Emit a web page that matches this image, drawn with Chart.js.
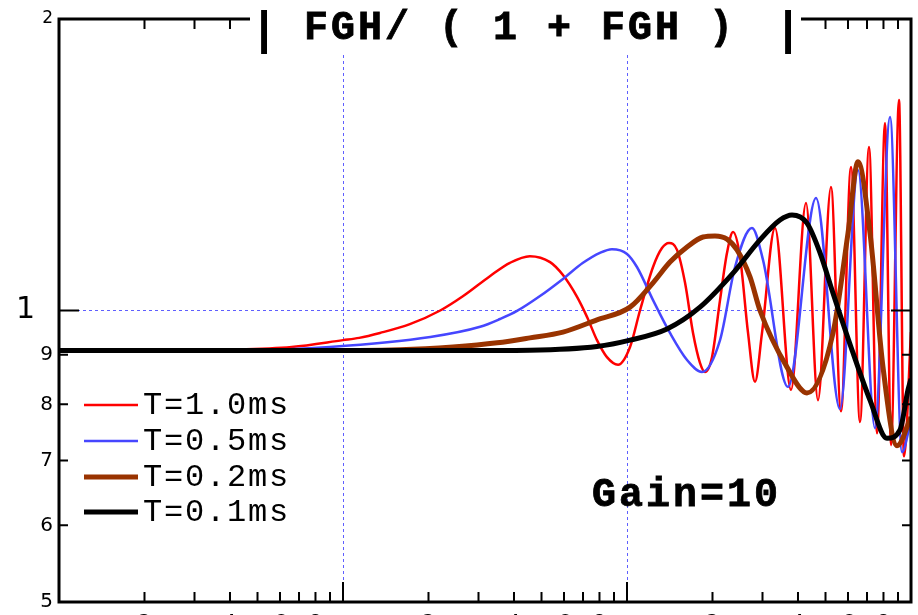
<!DOCTYPE html>
<html>
<head>
<meta charset="utf-8">
<script src="https://cdn.jsdelivr.net/npm/chart.js@4.4.1/dist/chart.umd.min.js"></script>
<style>
  html, body { margin: 0; padding: 0; background: #fff; overflow: hidden; }
  #wrap { width: 918px; height: 615px; }
</style>
</head>
<body>
<div id="wrap"><canvas id="chart" width="918" height="615"></canvas></div>
<script>
// closed-loop magnitude |FGH/(1+FGH)| against frequency, one curve per delay T
const freqRed = [10, 21, 39, 66, 100, 114, 135, 172, 220, 265, 329, 387, 455, 536, 595, 667, 723, 784, 850, 930,
  1025, 1111, 1235, 1328, 1406, 1500, 1601, 1708, 1807, 1882, 1992, 2126, 2250, 2362, 2500, 2668, 2823, 2988,
  3320, 3780, 4269, 4705, 5227, 5670, 6149, 6613, 7114, 7594, 8100, 8505, 9073, 9449, 10000];
const magRed = [0.909, 0.909, 0.911, 0.917, 0.932, 0.937, 0.948, 0.968, 1.0, 1.035, 1.085, 1.120, 1.138, 1.122, 1.088, 1.033, 0.985, 0.932, 0.895, 0.879,
  0.917, 1.0, 1.109, 1.160, 1.174, 1.155, 1.068, 0.948, 0.883, 0.864, 0.895, 1.025, 1.147, 1.205, 1.136, 0.948, 0.844, 0.948,
  1.217, 0.828, 1.291, 0.808, 1.341, 0.787, 1.407, 0.767, 1.475, 0.747, 1.562, 0.726, 1.650, 0.707, 0.95];

const freqBlue = [10, 47, 90, 203, 304, 357, 410, 494, 595, 700, 803, 885, 1000, 1084, 1235, 1417, 1627, 1837, 2126, 2401,
  2755, 3012, 3689, 4630, 5623, 6508, 7467, 8437, 9296, 10000];
const magBlue = [0.909, 0.910, 0.917, 0.939, 0.962, 0.980, 0.999, 1.035, 1.078, 1.120, 1.147, 1.157, 1.144, 1.109, 1.025, 0.948, 0.889, 0.864, 0.932, 1.109,
  1.217, 1.128, 0.834, 1.307, 0.791, 1.397, 0.756, 1.584, 0.714, 0.771];

const freqBrown = [10, 71, 159, 244, 349, 455, 595, 784, 1025, 1235, 1417, 1627, 1852, 2041, 2250, 2440, 2711, 2940,
  3659, 4303, 5314, 6001, 6508, 7172, 7969, 8927, 10000];
const magBrown = [0.909, 0.909, 0.911, 0.917, 0.926, 0.937, 0.950, 0.978, 1.008, 1.068, 1.122, 1.163, 1.191, 1.194, 1.185, 1.155, 1.083, 1.0,
  0.874, 0.822, 0.948, 1.202, 1.424, 1.202, 0.874, 0.725, 0.776];

const freqBlack = [10, 244, 455, 784, 1025, 1383, 1807, 2362, 2940, 3457, 3811, 4303, 4783, 5314, 6250, 7172, 8232, 9148, 9759, 10000];
const magBlack = [0.909, 0.909, 0.910, 0.918, 0.932, 0.957, 1.008, 1.093, 1.183, 1.240, 1.255, 1.231, 1.147, 1.042, 0.904, 0.808, 0.738, 0.753, 0.828, 0.850];

const seriesLabels = ['T=1.0ms', 'T=0.5ms', 'T=0.2ms', 'T=0.1ms'];
const seriesColors = ['#ff0000', '#4646ff', '#993300', '#000000'];
const seriesWidths = [2.5, 2.5, 5, 5];

// axis ticks
const xTicks = [10, 20, 30, 40, 50, 60, 70, 80, 90, 100, 200, 300, 400, 500, 600, 700, 800, 900,
  1000, 2000, 3000, 4000, 5000, 6000, 7000, 8000, 9000, 10000];
const xTickLabels = ['', '2', '', '4', '', '6', '', '8', '', '', '2', '', '4', '', '6', '', '8', '',
  '', '2', '', '4', '', '6', '', '8', '', ''];
const xMajor = [100, 1000];
const yTicks = [0.5, 0.6, 0.7, 0.8, 0.9, 1, 2];
const yTickLabels = ['5', '6', '7', '8', '9', '1', '2'];

const titleText = 'FGH/ ( 1 + FGH )';
const gainText = 'Gain=10';

const gridBlue = 'rgb(95,95,255)';

function points(fs, ms) {
  return fs.map((f, i) => ({ x: f, y: ms[i] }));
}

const seriesData = [
  points(freqRed, magRed),
  points(freqBlue, magBlue),
  points(freqBrown, magBrown),
  points(freqBlack, magBlack)
];

const framePlugin = {
  id: 'frame',
  afterDatasetsDraw(chart) {
    const { ctx, chartArea: a } = chart;
    const xs = chart.scales.x, ys = chart.scales.y;
    ctx.save();
    ctx.strokeStyle = '#000';
    ctx.lineWidth = 2;
    ctx.beginPath();
    xTicks.forEach(v => {
      const px = xs.getPixelForValue(v);
      const len = xMajor.includes(v) ? 20 : 10;
      ctx.moveTo(px, a.bottom); ctx.lineTo(px, a.bottom - len);
      ctx.moveTo(px, a.top); ctx.lineTo(px, a.top + len);
    });
    yTicks.forEach(v => {
      const py = ys.getPixelForValue(v);
      const len = v === 1 ? 20 : 9;
      ctx.moveTo(a.left, py); ctx.lineTo(a.left + len, py);
      ctx.moveTo(a.right, py); ctx.lineTo(a.right - len, py);
    });
    ctx.stroke();
    ctx.lineWidth = 3;
    ctx.strokeRect(a.left, a.top, a.right - a.left, a.bottom - a.top);

    // tick labels
    ctx.fillStyle = '#000';
    ctx.textAlign = 'right';
    ctx.textBaseline = 'middle';
    yTicks.forEach((v, i) => {
      let size = 20, right = a.left - 6;
      if (v === 1) { size = 30; right = a.left - 24; }
      if (v === 2) size = 17;
      ctx.font = size + 'px "DejaVu Sans"';
      ctx.fillText(yTickLabels[i], right, ys.getPixelForValue(v));
    });
    ctx.textAlign = 'center';
    ctx.textBaseline = 'alphabetic';
    ctx.font = '20px "DejaVu Sans"';
    xTicks.forEach((v, i) => {
      if (xTickLabels[i]) ctx.fillText(xTickLabels[i], xs.getPixelForValue(v), a.bottom + 26);
    });
    ctx.restore();
  },
  afterDraw(chart) {
    const { ctx } = chart;
    ctx.save();
    // title sits on a white band over the top frame
    ctx.fillStyle = '#fff';
    ctx.fillRect(250, 0, 551, 53);
    ctx.fillStyle = '#000';
    ctx.strokeStyle = '#000';
    ctx.lineWidth = 0.8;
    ctx.textBaseline = 'alphabetic';
    ctx.font = 'bold 46px "Liberation Mono"';
    ctx.textAlign = 'center';
    ctx.fillText('|', 264, 44);
    ctx.fillText('|', 788, 44);
    ctx.textAlign = 'left';
    ctx.font = 'bold 40px "Liberation Mono"';
    ctx.letterSpacing = '3px';
    ctx.fillText(titleText, 304, 39);
    ctx.strokeText(titleText, 304, 39);

    ctx.fillText(gainText, 592, 506);
    ctx.strokeText(gainText, 592, 506);

    // legend
    ctx.font = '32px "Liberation Mono"';
    ctx.letterSpacing = '1.8px';
    ctx.textBaseline = 'middle';
    const rows = [405, 441, 477, 512];
    chart.data.datasets.forEach((ds, i) => {
      ctx.strokeStyle = ds.borderColor;
      ctx.lineWidth = ds.borderWidth;
      ctx.beginPath();
      ctx.moveTo(84, rows[i]);
      ctx.lineTo(138, rows[i]);
      ctx.stroke();
      ctx.fillStyle = '#000';
      ctx.fillText(ds.label, 143, rows[i] + 1);
    });
    ctx.restore();
  }
};

new Chart(document.getElementById('chart'), {
  type: 'line',
  plugins: [framePlugin],
  data: {
    datasets: seriesLabels.map((label, i) => ({
      label: label,
      data: seriesData[i],
      borderColor: seriesColors[i],
      borderWidth: seriesWidths[i],
      pointRadius: 0,
      cubicInterpolationMode: 'monotone',
      order: 4 - i
    }))
  },
  options: {
    responsive: false,
    animation: false,
    devicePixelRatio: 1,
    layout: { padding: { top: 19, right: 7, left: 0, bottom: 0 } },
    plugins: {
      legend: { display: false },
      title: { display: false },
      tooltip: { enabled: false }
    },
    scales: {
      x: {
        type: 'logarithmic',
        min: 10,
        max: 10000,
        afterBuildTicks: (scale) => { scale.ticks = xTicks.map(v => ({ value: v })); },
        afterFit: (scale) => { scale.height = 13; },
        ticks: { display: false },
        border: { display: false, dash: [3, 3] },
        grid: {
          drawTicks: false,
          lineWidth: 1,
          color: (c) => (c.tick && xMajor.includes(c.tick.value)) ? gridBlue : 'rgba(0,0,0,0)'
        }
      },
      y: {
        type: 'logarithmic',
        min: 0.5,
        max: 2,
        afterBuildTicks: (scale) => { scale.ticks = yTicks.map(v => ({ value: v })); },
        afterFit: (scale) => { scale.width = 59; },
        ticks: { display: false },
        border: { display: false, dash: [3, 3] },
        grid: {
          drawTicks: false,
          lineWidth: 1,
          color: (c) => (c.tick && c.tick.value === 1) ? gridBlue : 'rgba(0,0,0,0)'
        }
      }
    }
  }
});
</script>
</body>
</html>
